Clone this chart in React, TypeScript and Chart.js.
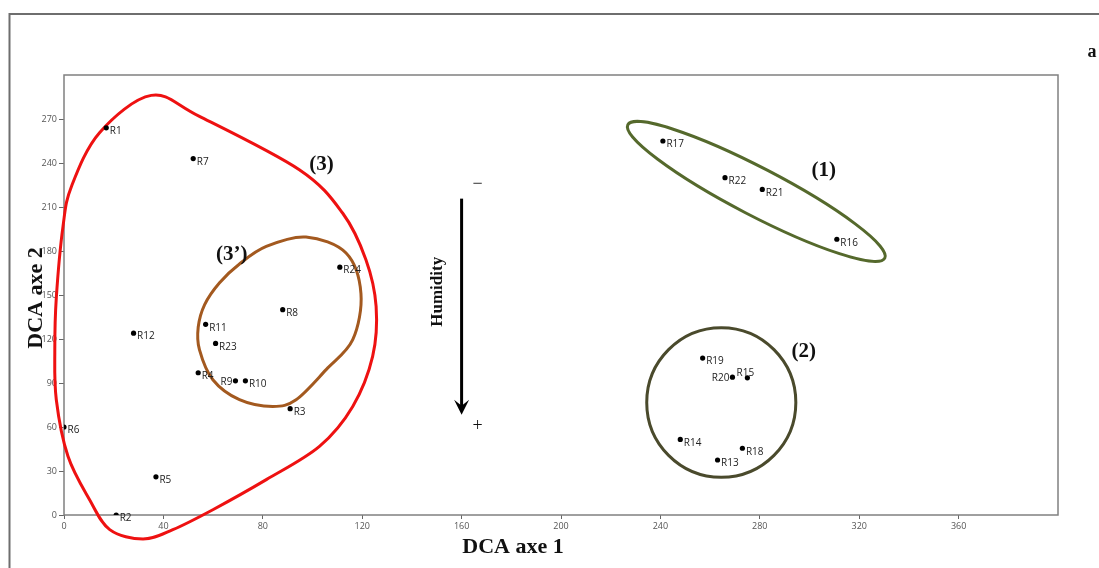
import React, { useEffect, useRef } from "react";
import { Chart, registerables } from "chart.js";

Chart.register(...registerables);

// ---- Data: DCA site scores ----
const siteNames = ["R1","R2","R3","R4","R5","R6","R7","R8","R9","R10","R11","R12","R13","R14","R15","R16","R17","R18","R19","R20","R21","R22","R23","R24"];
const axe1 = [17, 21, 91, 54, 37, 0, 52, 88, 69, 73, 57, 28, 263, 248, 275, 311, 241, 273, 257, 269, 281, 266, 61, 111];
const axe2 = [264, 0, 72.5, 97, 26, 60, 243, 140, 91.5, 91.5, 130, 124, 37.5, 51.5, 93.5, 188, 255, 45.5, 107, 94, 222, 230, 117, 169];
const labelSide = ["r","r","r","r","r","r","r","r","l","r","r","r","r","r","t","r","r","r","r","l","r","r","r","r"];

// ---- Axis ticks ----
const xTicks = [0, 40, 80, 120, 160, 200, 240, 280, 320, 360];
const yTicks = [0, 30, 60, 90, 120, 150, 180, 210, 240, 270];

// ---- Group outlines (data units) ----
const group3X = [35.1, 54.5, 94.7, 112.1, 121.5, 125.6, 124.2, 116.2, 102.8, 81.4, 59.9, 43.8, 31.8, 18.4, 10.3, 1.6, -3.1, -3.7, -3.1, -0.4, 3.0, 14.3];
const group3Y = [286.1, 271.8, 235.4, 205.9, 174.1, 142.2, 108.1, 74.0, 46.8, 24.1, 3.6, -10.0, -16.4, -10.0, 10.4, 40.0, 78.6, 112.7, 148.0, 196.8, 224.0, 260.7];
const group3pX = [97.4, 113.5, 119.5, 116.2, 105.5, 93.4, 84.0, 70.6, 59.9, 54.5, 54.0, 56.6, 62.6, 70.5, 81.4];
const group3pY = [189.5, 178.6, 151.0, 119.5, 99.1, 78.6, 74.0, 78.6, 92.2, 112.7, 128.0, 143.5, 158.4, 171.0, 183.1];
// ellipse: centre, and two conjugate semi-diameters
const group1Ellipse = [278.6, 220.6, 51.7, -45.5, -4.4, -14.5];
const group2Ellipse = [264.5, 76.7, 30, 0, 0, 51];

// ---- Annotations (data units) ----
const groupLabels = ["(3)", "(3\u2019)", "(1)", "(2)"];
const groupLabelX = [103.6, 67.5, 305.7, 297.7];
const groupLabelY = [238.8, 177.5, 235, 111.4];

const SERIF = '"Liberation Serif", "Times New Roman", serif';
const SANS = '"Open Sans", "DejaVu Sans", sans-serif';

function closedSpline(ctx: CanvasRenderingContext2D, pts: number[][]) {
  const n = pts.length;
  const t = 1 / 6;
  ctx.beginPath();
  ctx.moveTo(pts[0][0], pts[0][1]);
  for (let i = 0; i < n; i++) {
    const p0 = pts[(i - 1 + n) % n], p1 = pts[i], p2 = pts[(i + 1) % n], p3 = pts[(i + 2) % n];
    ctx.bezierCurveTo(
      p1[0] + (p2[0] - p0[0]) * t, p1[1] + (p2[1] - p0[1]) * t,
      p2[0] - (p3[0] - p1[0]) * t, p2[1] - (p3[1] - p1[1]) * t,
      p2[0], p2[1]
    );
  }
  ctx.closePath();
}

const decorPlugin = {
  id: "decor",
  beforeDatasetsDraw(chart: any) {
    const { ctx, chartArea, scales } = chart;
    const xs = scales.x, ys = scales.y;
    const px = (v: number) => xs.getPixelForValue(v);
    const py = (v: number) => ys.getPixelForValue(v);
    ctx.save();
    // outer frame
    ctx.strokeStyle = "#6e6e6e";
    ctx.lineWidth = 2;
    ctx.beginPath();
    ctx.moveTo(9.5, 568);
    ctx.lineTo(9.5, 14);
    ctx.lineTo(1099, 14);
    ctx.stroke();
    // plot border
    ctx.strokeStyle = "#808080";
    ctx.lineWidth = 1.5;
    ctx.strokeRect(chartArea.left, chartArea.top, chartArea.right - chartArea.left, chartArea.bottom - chartArea.top);

    // group (3)
    ctx.lineJoin = "round";
    ctx.strokeStyle = "#ee1111";
    ctx.lineWidth = 3;
    closedSpline(ctx, group3X.map((x, i) => [px(x), py(group3Y[i])]));
    ctx.stroke();
    // group (3')
    ctx.strokeStyle = "#a3591f";
    ctx.lineWidth = 3;
    closedSpline(ctx, group3pX.map((x, i) => [px(x), py(group3pY[i])]));
    ctx.stroke();

    const drawEllipse = (e: number[], color: string) => {
      const cx = px(e[0]), cy = py(e[1]);
      const ax = px(e[0] + e[2]) - cx, ay = py(e[1] + e[3]) - cy;
      const bx = px(e[0] + e[4]) - cx, by = py(e[1] + e[5]) - cy;
      ctx.save();
      ctx.translate(cx, cy);
      ctx.transform(ax, ay, bx, by, 0, 0);
      ctx.beginPath();
      ctx.arc(0, 0, 1, 0, Math.PI * 2);
      ctx.restore();
      ctx.strokeStyle = color;
      ctx.lineWidth = 3;
      ctx.stroke();
    };
    drawEllipse(group1Ellipse, "#55692c");
    drawEllipse(group2Ellipse, "#4a4a2c");

    // humidity arrow
    const ax0 = px(160), top = py(215.7), tip = py(68.4);
    ctx.strokeStyle = "#000";
    ctx.fillStyle = "#000";
    ctx.lineWidth = 3;
    ctx.beginPath();
    ctx.moveTo(ax0, top);
    ctx.lineTo(ax0, tip - 8);
    ctx.stroke();
    ctx.beginPath();
    ctx.moveTo(ax0, tip);
    ctx.lineTo(ax0 - 7.5, tip - 15);
    ctx.lineTo(ax0, tip - 9);
    ctx.lineTo(ax0 + 7.5, tip - 15);
    ctx.closePath();
    ctx.fill();

    ctx.restore();
  },
  afterDatasetsDraw(chart: any) {
    const { ctx, scales } = chart;
    const xs = scales.x, ys = scales.y;
    const px = (v: number) => xs.getPixelForValue(v);
    const py = (v: number) => ys.getPixelForValue(v);
    ctx.save();
    // site labels
    ctx.font = `10px ${SANS}`;
    ctx.fillStyle = "#222";
    ctx.textBaseline = "middle";
    siteNames.forEach((name, i) => {
      const x = px(axe1[i]), y = py(axe2[i]);
      const side = labelSide[i];
      if (side === "l") {
        ctx.textAlign = "right";
        ctx.fillText(name, x - 3, y + 1.5);
      } else if (side === "t") {
        ctx.textAlign = "center";
        ctx.fillText(name, x - 2, y - 4.5);
      } else {
        ctx.textAlign = "left";
        ctx.fillText(name, x + 3.5, y + 3.5);
      }
    });
    // group labels
    ctx.fillStyle = "#111";
    ctx.textAlign = "center";
    ctx.font = `bold 21px ${SERIF}`;
    groupLabels.forEach((t, i) => ctx.fillText(t, px(groupLabelX[i]), py(groupLabelY[i])));
    // humidity text
    ctx.save();
    ctx.translate(px(150.3), py(152.2));
    ctx.rotate(-Math.PI / 2);
    ctx.font = `bold 17px ${SERIF}`;
    ctx.fillText("Humidity", 0, 0);
    ctx.restore();
    ctx.font = `18px ${SERIF}`;
    ctx.fillText("\u2212", px(166.4), py(225.2));
    ctx.fillText("+", px(166.4), py(60.2));
    // axis titles
    ctx.font = `bold 22px ${SERIF}`;
    ctx.fillText("DCA axe 1", 513, 547);
    ctx.save();
    ctx.translate(36, 298);
    ctx.rotate(-Math.PI / 2);
    ctx.fillText("DCA axe 2", 0, 0);
    ctx.restore();
    // panel letter
    ctx.font = `bold 18px ${SERIF}`;
    ctx.fillText("a", 1092, 52);
    ctx.restore();
  },
};

export default function App() {
  const ref = useRef<HTMLCanvasElement | null>(null);
  useEffect(() => {
    document.body.style.margin = "0";
    if (!ref.current) return;
    const tickFont = { family: SANS, size: 9 };
    const chart = new Chart(ref.current, {
      type: "scatter",
      data: {
        datasets: [
          {
            data: axe1.map((x, i) => ({ x, y: axe2[i] })),
            backgroundColor: "#000",
            borderColor: "#000",
            pointRadius: 2.6,
            pointHoverRadius: 2.6,
            borderWidth: 0,
          },
        ],
      },
      options: {
        animation: false,
        responsive: false,
        events: [],
        layout: { padding: { left: 0, top: 75, right: 41, bottom: 0 } },
        plugins: { legend: { display: false }, tooltip: { enabled: false } },
        scales: {
          x: {
            type: "linear",
            min: 0,
            max: 400,
            afterBuildTicks: (s: any) => { s.ticks = xTicks.map((v) => ({ value: v })); },
            afterFit: (s: any) => { s.height = 53; },
            ticks: { font: tickFont, color: "#555", padding: 2, maxRotation: 0, autoSkip: false },
            grid: { drawOnChartArea: false, drawTicks: true, tickLength: 4, color: "#666", lineWidth: 1 },
            border: { display: false },
          },
          y: {
            type: "linear",
            min: 0,
            max: 300,
            afterBuildTicks: (s: any) => { s.ticks = yTicks.map((v) => ({ value: v })); },
            afterFit: (s: any) => { s.width = 64; },
            ticks: { font: tickFont, color: "#555", padding: 2, autoSkip: false },
            grid: { drawOnChartArea: false, drawTicks: true, tickLength: 5, color: "#666", lineWidth: 1 },
            border: { display: false },
          },
        },
      },
      plugins: [decorPlugin],
    } as any);
    return () => chart.destroy();
  }, []);
  return (
    <div style={{ position: "fixed", left: 0, top: 0, width: 1099, height: 568, background: "#fff" }}>
      <canvas ref={ref} width={1099} height={568} style={{ display: "block" }} />
    </div>
  );
}
